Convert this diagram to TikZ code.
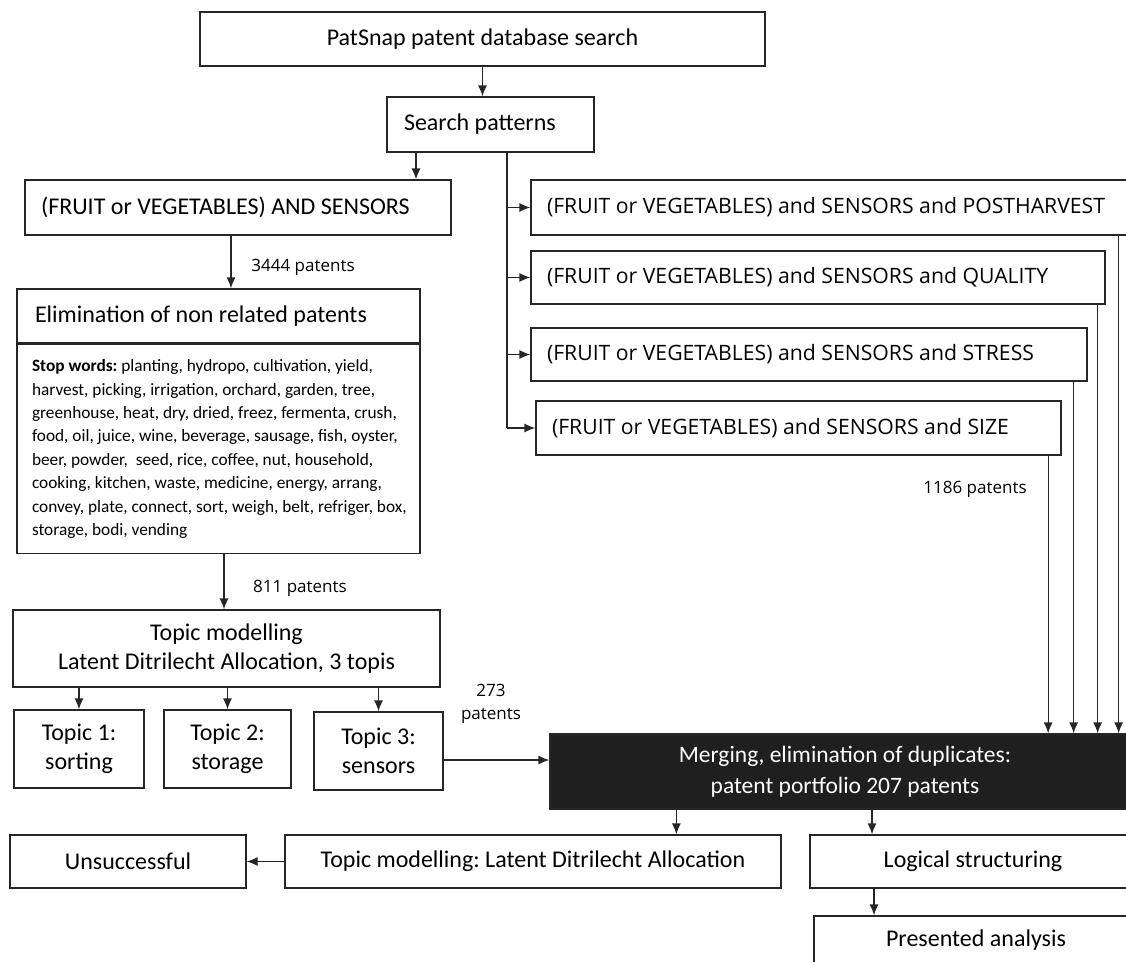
\documentclass[tikz,border=0pt]{standalone}
\usepackage{fontspec}
\setmainfont{Carlito}
\newfontfamily\segoe{Open Sans}
\usepackage{tikz}
\usetikzlibrary{arrows.meta}
\frenchspacing
\tikzset{>={Latex[length=11pt,width=9pt]}}
\tikzstyle{box} = [rectangle, draw=black!85, line width=1.3pt, inner sep=0pt, align=center, font=\fontsize{24}{29}\selectfont]
\tikzstyle{lbox} = [box, align=flush left]
\tikzstyle{qbox} = [lbox, text width=50pt, inner xsep=16pt, font=\segoe\fontsize{21.2}{25}\selectfont]
\tikzstyle{flow} = [->, draw=black!85, line width=1.3pt]
\tikzstyle{count} = [inner sep=0pt, align=center, font=\segoe\fontsize{17}{23}\selectfont]

\begin{document}
\begin{tikzpicture}[x=1pt, y=-1pt]
\clip (0,0) rectangle (1126,961);
% search and queries
\node [box, minimum width=565pt, minimum height=54pt] (DB) at (482.5, 39) {PatSnap patent database search};
\node [lbox, text width=173pt, inner xsep=17pt, minimum height=55pt] (SP) at (490.5, 124.5) {Search patterns};
\node [lbox, text width=394pt, inner xsep=16pt, minimum height=55pt] (FAS) at (238, 207.5) {(FRUIT or VEGETABLES) AND SENSORS};
\node [qbox, text width=577pt, minimum height=55pt] (R1) at (835.5, 207.5) {(FRUIT or VEGETABLES) and SENSORS and POSTHARVEST};
\node [qbox, text width=542pt, minimum height=53pt] (R2) at (818, 277.5) {(FRUIT or VEGETABLES) and SENSORS and QUALITY};
\node [qbox, text width=524pt, minimum height=53pt] (R3) at (809, 354.5) {(FRUIT or VEGETABLES) and SENSORS and STRESS};
\node [qbox, text width=493pt, minimum height=54pt] (R4) at (798.5, 428) {(FRUIT or VEGETABLES) and SENSORS and SIZE};
\coordinate (trunk) at ([xshift=16.5pt]SP.south);
% elimination
\node [lbox, text width=367pt, inner xsep=18pt, minimum height=55pt] (E) at (218.5, 316.5) {Elimination of non related patents};
\node [lbox, text width=373pt, inner xsep=15pt, minimum height=209pt, font=\fontsize{17.3}{23.4}\selectfont] (SW) at (218.5, 449) {\textbf{Stop words:} planting, hydropo, cultivation, yield,\\
harvest, picking, irrigation, orchard, garden, tree,\\
greenhouse, heat, dry, dried, freez, fermenta, crush,\\
food, oil, juice, wine, beverage, sausage, fish, oyster,\\
beer, powder,\ \ seed, rice, coffee, nut, household,\\
cooking, kitchen, waste, medicine, energy, arrang,\\
\mbox{convey, plate, connect, sort, weigh, belt, refriger, box,}\\
storage, bodi, vending};
\draw [draw=black!85, line width=3pt] (SW.north west) -- (SW.north east);
% topics
\node [box, minimum width=427pt, minimum height=77pt] (TM) at (226.5, 648.5) {Topic modelling\\Latent Ditrilecht Allocation, 3 topis};
\node [box, minimum width=130pt, minimum height=78pt] (T1) at (79, 749) {Topic 1:\\sorting};
\node [box, minimum width=127pt, minimum height=78pt] (T2) at (227.5, 749) {Topic 2:\\storage};
\node [box, minimum width=129pt, minimum height=78pt] (T3) at (378.5, 751) {Topic 3:\\sensors};
% merging and after
\node [box, minimum width=590pt, minimum height=75pt, fill=black!88, text=white, font=\fontsize{23.5}{31}\selectfont] (M) at (845, 771.5) {Merging, elimination of duplicates:\\patent portfolio 207 patents};
\node [box, minimum width=236pt, minimum height=53pt] (U) at (128, 861.5) {Unsuccessful};
\node [box, minimum width=496pt, minimum height=53pt] (L) at (533, 861.5) {Topic modelling: Latent Ditrilecht Allocation};
\node [box, minimum width=326pt, minimum height=53pt] (LS) at (973, 861.5) {Logical structuring};
\node [box, minimum width=324pt, minimum height=48pt] (PA) at (976, 940) {Presented analysis};
% counts
\node [count] (n3444) at (303, 267) {3444 patents};
\node [count] (n811) at (300, 588) {811 patents};
\node [count] (n273) at (491, 704) {273\\patents};
\node [count] (n1186) at (975, 489) {1186 patents};
% connectors
\draw [flow] (DB.south) -- (DB.south |- SP.north);
\draw [flow] ([xshift=-74.5pt]SP.south) -- ([xshift=-74.5pt]SP.south |- FAS.north);
\draw [draw=black!85, line width=1.3pt] (trunk) -- (trunk |- R4.west);
\draw [flow] (trunk |- R1.west) -- (R1.west);
\draw [flow] (trunk |- R2.west) -- (R2.west);
\draw [flow] (trunk |- R3.west) -- (R3.west);
\draw [flow] (trunk |- R4.west) -- (R4.west);
\draw [flow] ([xshift=-7pt]FAS.south) -- ([xshift=-7pt]FAS.south |- E.north);
\draw [flow] ([xshift=5.5pt]SW.south) -- ([xshift=5.5pt]SW.south |- TM.north);
\draw [flow] (T1.north |- TM.south) -- (T1.north);
\draw [flow] (T2.north |- TM.south) -- (T2.north);
\draw [flow] (T3.north |- TM.south) -- (T3.north);
\draw [flow] ([yshift=-9pt]T3.east) -- ([yshift=-9pt]T3.east -| M.west);
\draw [flow] ([xshift=-22pt]R1.south east) -- ([xshift=-22pt]R1.south east |- M.north);
\draw [flow] ([xshift=-8pt]R2.south east) -- ([xshift=-8pt]R2.south east |- M.north);
\draw [flow] ([xshift=-14pt]R3.south east) -- ([xshift=-14pt]R3.south east |- M.north);
\draw [flow] ([xshift=-13.5pt]R4.south east) -- ([xshift=-13.5pt]R4.south east |- M.north);
\draw [flow] ([xshift=127pt]M.south west) -- ([xshift=127pt]M.south west |- L.north);
\draw [flow] ([xshift=-101pt]LS.north |- M.south) -- ([xshift=-101pt]LS.north);
\draw [flow] ([xshift=-99pt]LS.south) -- ([xshift=-99pt]LS.south |- PA.north);
\draw [flow] (L.west) -- (U.east);
\end{tikzpicture}
\end{document}
